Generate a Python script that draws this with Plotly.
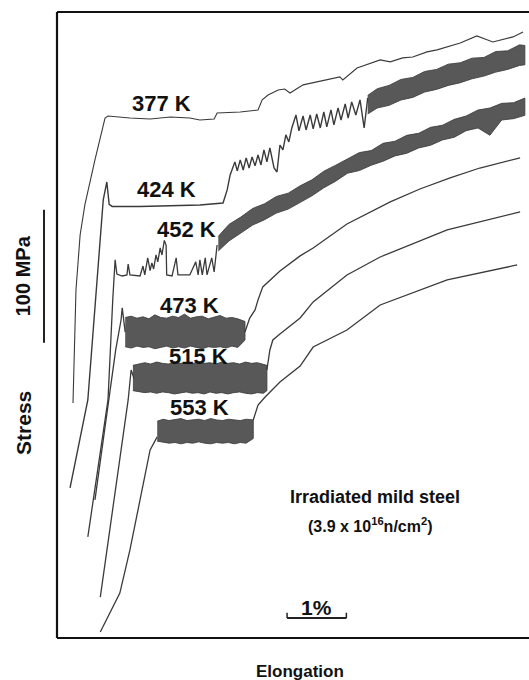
import plotly.graph_objects as go

# ---- stress-elongation records (elongation in %, stress in MPa) ----
# 377 K
e377 = [0.27, 0.32, 0.39, 0.47, 0.64, 0.81, 0.86, 1.23, 1.57, 1.91, 2.24, 2.41, 2.65, 2.70, 3.09, 3.39,
        3.46, 3.56, 3.73, 3.84, 3.93, 4.15, 4.77, 4.82, 5.06, 5.45, 5.62, 5.83, 6.00, 6.24, 6.41, 6.80,
        7.08, 7.18, 7.35, 7.69, 7.86]
s377 = [176.7, 261.7, 303.1, 325.6, 359.5, 391.0, 392.5, 391.0, 390.2, 391.7, 391.0, 389.5, 390.2, 394.7,
        395.5, 397.0, 404.6, 408.3, 412.1, 412.8, 409.8, 415.9, 421.9, 419.6, 428.6, 434.7, 433.2, 436.2,
        436.9, 440.7, 442.2, 447.4, 452.7, 451.2, 448.2, 452.0, 455.7]

# 424 K: loading, yield drop, Luders plateau and serrated hardening
e424 = [0.22, 0.52, 0.78, 0.84, 0.88, 0.93, 1.40, 1.91, 2.41, 2.80, 2.87, 2.92,
        2.95, 3.00, 3.04, 3.09, 3.14, 3.19, 3.24, 3.29, 3.34, 3.39, 3.44, 3.49, 3.54, 3.59, 3.66, 3.71,
        3.76, 3.81, 3.86, 3.91, 3.96, 4.03, 4.08, 4.15, 4.20, 4.27, 4.32, 4.38, 4.44, 4.50, 4.55, 4.62,
        4.67, 4.74, 4.79, 4.86, 4.91, 4.97, 5.04, 5.11, 5.18, 5.24]
s424 = [112.8, 179.0, 329.4, 342.9, 326.0, 324.5, 324.5, 324.9, 325.6, 327.1, 336.9, 348.2,
        351.9, 358.0, 351.2, 359.5, 351.9, 361.0, 353.4, 361.7, 355.0, 363.2, 355.7, 367.0, 358.0, 368.5,
        353.4, 350.4, 370.7, 367.0, 378.3, 373.0, 383.5, 393.3, 381.3, 392.5, 382.0, 393.3, 382.8, 394.0,
        383.5, 395.5, 384.3, 397.1, 385.8, 398.6, 389.5, 401.6, 391.0, 403.1, 393.3, 404.6, 383.5, 406.1]
band424_e = [5.24, 5.4, 5.6, 5.8, 6.0, 6.2, 6.4, 6.6, 6.8, 7.0, 7.2, 7.4, 7.6, 7.8, 7.89]
band424_hi = [408, 413, 415.5, 420, 421.5, 426, 427.5, 431.5, 432.5, 436, 436.5, 441, 441.5, 446, 445.5]
band424_lo = [394, 398.5, 400.5, 404.5, 406.5, 410.5, 412.5, 415.5, 417.5, 420.5, 422.5, 425.5, 427.5,
              430.5, 431]

# 452 K
e452 = [0.52, 0.86, 0.94, 0.98, 1.01, 1.10, 1.18, 1.20, 1.23, 1.40, 1.45, 1.48, 1.53, 1.57, 1.60, 1.63,
        1.67, 1.70, 1.74, 1.77, 1.81, 1.84, 1.85, 1.94, 2.01, 2.04, 2.24, 2.34, 2.38, 2.41, 2.45, 2.50,
        2.53, 2.61, 2.65, 2.70]
s452 = [76.0, 179.0, 254.2, 284.3, 273.7, 272.2, 273.0, 281.2, 273.0, 272.2, 279.7, 273.0, 285.8, 276.2,
        282.0, 277.5, 288.0, 282.8, 293.3, 288.0, 299.0, 295.2, 273.0, 272.2, 285.8, 273.0, 273.0, 282.8,
        273.0, 284.3, 273.0, 285.8, 273.0, 285.8, 275.2, 295.5]
band452_e = [2.72, 2.9, 3.1, 3.3, 3.5, 3.7, 3.9, 4.1, 4.3, 4.5, 4.7, 4.9, 5.1, 5.3, 5.5, 5.7, 5.9,
             6.1, 6.3, 6.5, 6.7, 6.9, 7.1, 7.3, 7.5, 7.7, 7.89]
band452_hi = [302, 311, 316.5, 323, 326.5, 332, 334.5, 340, 344.5, 351, 355.5, 360, 365, 366.5, 372,
              373.5, 378, 379.5, 384, 385.5, 390, 392.5, 397, 398.5, 402, 402.5, 406]
band452_lo = [291, 298.5, 304.5, 310.5, 314.5, 319.5, 322.5, 327.5, 332.5, 338.5, 343.5, 349.5, 351.5,
              355.5, 358.5, 362.5, 364.5, 368.5, 370.5, 374.5, 376.5, 381.5, 383.5, 378, 389.5, 390.5, 393]

# 473 K
e473_load = [0.64, 0.83, 0.99, 1.08, 1.10, 1.15]
s473_load = [103.8, 163.9, 216.6, 239.1, 248.2, 230.0]
band473_e = [1.15, 1.25, 1.35, 1.45, 1.55, 1.65, 1.75, 1.85, 1.95, 2.05, 2.15, 2.25, 2.35, 2.45,
             2.55, 2.65, 2.75, 2.85, 2.95, 3.05, 3.17]
band473_hi = [241, 242, 240.5, 241.5, 240, 243, 241, 240.5, 242, 241, 243.5, 240.5, 241.5, 242, 240,
              241, 242.5, 240.5, 241, 240, 238]
band473_lo = [219, 218, 219.5, 218.5, 219, 217.5, 218.5, 219.5, 218, 219, 218, 219.5, 218.5, 217.5,
              219, 218.5, 219, 218, 219.5, 218.5, 224]
e473 = [3.17, 3.25, 3.34, 3.39, 3.47, 3.76, 4.10, 4.32, 4.89, 5.62, 6.12, 6.63, 7.13, 7.81]
s473 = [230.1, 240.6, 246.7, 254.2, 264.0, 276.0, 287.3, 293.3, 311.3, 327.9, 337.6, 345.9, 353.4, 361.0]

# 515 K
e515_load = [0.73, 1.20, 1.25, 1.30]
s515_load = [30.8, 179.0, 201.5, 195.0]
band515_e = [1.28, 1.38, 1.48, 1.58, 1.68, 1.78, 1.88, 1.98, 2.08, 2.18, 2.28, 2.38, 2.48, 2.58,
             2.68, 2.78, 2.88, 2.98, 3.08, 3.18, 3.28, 3.38, 3.48, 3.54]
band515_hi = [205, 206, 207, 206, 207.5, 206.5, 206, 207.5, 206.5, 207, 206, 208, 206.5, 207, 206,
              207.5, 206.5, 207, 206, 207.5, 206.5, 207, 206, 205]
band515_lo = [186, 185.5, 184.5, 185, 184, 185, 184.5, 183.5, 184.5, 185, 184, 184.5, 183.5, 185,
              184, 184.5, 183.5, 184.5, 185, 184, 183.5, 184.5, 184, 186]
e515 = [3.54, 3.59, 3.64, 3.76, 4.10, 4.32, 4.89, 5.45, 6.58, 7.81]
s515 = [201.5, 216.6, 224.1, 228.6, 240.6, 252.7, 273.0, 286.5, 306.8, 320.4]

# 553 K
e553_load = [0.73, 1.06, 1.23, 1.40, 1.57, 1.69]
s553_load = [4.5, 33.8, 66.2, 103.8, 141.4, 151.2]
band553_e = [1.69, 1.79, 1.89, 1.99, 2.09, 2.19, 2.29, 2.39, 2.49, 2.59, 2.69, 2.79, 2.89, 2.99,
             3.09, 3.19, 3.31]
band553_hi = [163, 164.5, 163.5, 164, 165, 163.5, 164, 164.5, 163.5, 165, 164, 163.5, 164.5, 164,
              163.5, 164.5, 164]
band553_lo = [148, 147, 146.5, 147, 146, 147, 146.5, 147.5, 146.5, 146, 147, 146.5, 147, 146, 147,
              146.5, 150]
e553 = [3.31, 3.39, 3.51, 3.76, 4.10, 4.32, 4.89, 5.45, 6.58, 7.76]
s553 = [163.9, 175.2, 181.2, 192.5, 204.5, 218.8, 231.6, 250.4, 269.2, 280.5]

# curve labels: (text, elongation, stress)
labels = [("377 K", 1.77, 401.6), ("424 K", 1.85, 336.9), ("452 K", 2.19, 306.8),
          ("473 K", 2.24, 249.7), ("515 K", 2.38, 211.3), ("553 K", 2.41, 173.0)]

# scale bars
bar_strain = [3.88, 4.88]     # 1 % elongation
bar_stress = [222.0, 322.0]   # 100 MPa

INK = "#3a3a3a"
BAND = "rgba(60,60,60,0.86)"
FONT = "Liberation Sans, Arial, sans-serif"

fig = go.Figure()


def line(x, y, w=1.3):
    fig.add_trace(go.Scatter(x=x, y=y, mode="lines", line=dict(color=INK, width=w),
                             hoverinfo="skip", showlegend=False))


def band(x, hi, lo):
    fig.add_trace(go.Scatter(x=list(x) + list(x)[::-1], y=list(hi) + list(lo)[::-1],
                             mode="lines", fill="toself", fillcolor=BAND,
                             line=dict(color=BAND, width=1), hoverinfo="skip", showlegend=False))


def note(x, y, text, size, xref="x", yref="y", angle=0):
    fig.add_annotation(x=x, y=y, xref=xref, yref=yref, text=text, showarrow=False,
                       textangle=angle, xanchor="center", yanchor="middle",
                       font=dict(family=FONT, size=size, color="#111"))


line(e377, s377, 1.1)
line(e424, s424, 1.4)
band(band424_e, band424_hi, band424_lo)
line(e452, s452, 1.3)
band(band452_e, band452_hi, band452_lo)
line(e473_load, s473_load)
band(band473_e, band473_hi, band473_lo)
line(e473, s473)
line(e515_load, s515_load)
band(band515_e, band515_hi, band515_lo)
line(e515, s515)
line(e553_load, s553_load)
band(band553_e, band553_hi, band553_lo)
line(e553, s553)

for txt, ex, sy in labels:
    note(ex, sy, "<b>%s</b>" % txt, 22)

note(5.36, 106.0, "<b>Irradiated mild steel</b>", 18)
note(5.28, 85.0, "<b>(3.9 x 10<sup>16</sup>n/cm<sup>2</sup>)</b>", 16)

# 1 % bar
fig.add_shape(type="line", x0=bar_strain[0], x1=bar_strain[1], y0=15.0, y1=15.0,
              line=dict(color="#222", width=2))
for bx in bar_strain:
    fig.add_shape(type="line", x0=bx, x1=bx, y0=15.0, y1=19.0, line=dict(color="#222", width=1.5))
note(sum(bar_strain) / 2, 23.3, "<b>1%</b>", 21)

# 100 MPa bar (left of the frame)
fig.add_shape(type="line", xref="paper", yref="y", x0=-0.0275, x1=-0.0275,
              y0=bar_stress[0], y1=bar_stress[1], line=dict(color="#222", width=2))
note(-0.072, sum(bar_stress) / 2, "<b>100 MPa</b>", 20, xref="paper", angle=-90)
note(-0.070, 161.7, "<b>Stress</b>", 21, xref="paper", angle=-90)
note(4.10, -0.054, "<b>Elongation</b>", 17, yref="paper")

# frame: left, top and bottom edges
for x0, y0, x1, y1 in [(0, 0, 0, 1), (0, 1, 1.05, 1), (0, 0, 1.05, 0)]:
    fig.add_shape(type="line", xref="paper", yref="paper", x0=x0, y0=y0, x1=x1, y1=y1,
                  line=dict(color="#111", width=2.2))

fig.update_layout(
    width=529, height=680,
    margin=dict(l=57, r=0, t=12, b=42),
    paper_bgcolor="white", plot_bgcolor="white",
    xaxis=dict(range=[0, 7.96], visible=False, fixedrange=True),
    yaxis=dict(range=[0, 470.7], visible=False, fixedrange=True),
    showlegend=False,
)

fig.write_html("out.html")
